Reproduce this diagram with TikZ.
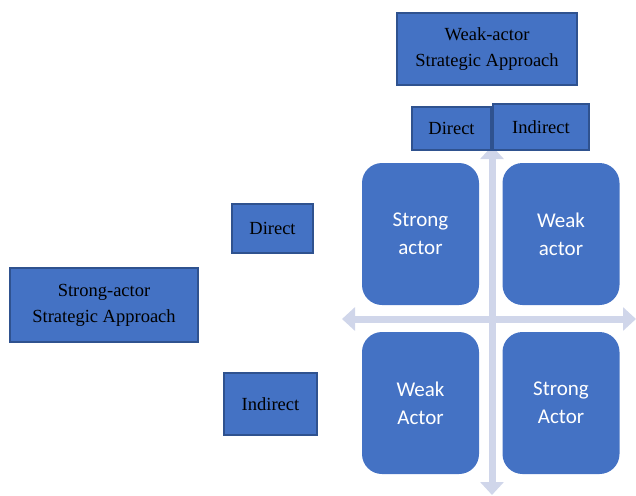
\documentclass[tikz,border=0pt]{standalone}
\usepackage{fontspec}
\setmainfont{Liberation Serif}
\newfontfamily\labelfont{Liberation Serif}
\newfontfamily\quadfont{Carlito}
\usetikzlibrary{arrows.meta, positioning}
\definecolor{boxBlue}{HTML}{4472C4}
\definecolor{edgeBlue}{HTML}{2F528F}
\definecolor{axisGrey}{HTML}{D0D6EA}
\tikzset{
  labelbox/.style={rectangle, fill=boxBlue, draw=edgeBlue, line width=1.4pt, inner sep=0pt,
    align=center, font=\labelfont\fontsize{18.5}{26}\selectfont, text=black},
  quadbox/.style={rectangle, rounded corners=20pt, fill=boxBlue, inner sep=0pt,
    minimum width=117pt, minimum height=142pt, align=center,
    font=\quadfont\fontsize{21}{28}\selectfont, text=white},
  axisarrow/.style={draw=axisGrey, line width=7pt, {Triangle[width=23pt,length=13pt]}-{Triangle[width=23pt,length=13pt]}}
}

\begin{document}
\begin{tikzpicture}[x=1pt, y=-1pt]
    \useasboundingbox (0,0) rectangle (636,495);

    % Axes behind everything
    \coordinate (axtop) at (492,146);
    \coordinate (axbot) at (492,495);
    \coordinate (axleft) at (342,319);
    \coordinate (axright) at (636,319);
    \draw[axisarrow] (axtop) -- (axbot);
    \draw[axisarrow] (axleft) -- (axright);

    % Four quadrants
    \node[quadbox] (strongtop) at (420.5,234) {Strong\\actor};
    \node[quadbox] (weaktop) at (561,234) {Weak\\actor};
    \node[quadbox] (weakbot) at (420.5,403) {Weak\\Actor};
    \node[quadbox] (strongbot) at (561,403) {Strong\\Actor};

    % Weak-actor approach (columns)
    \node[labelbox, minimum width=180pt, minimum height=72pt] (weakapp) at (487,49) {Weak-actor\\Strategic Approach};
    \node[labelbox, minimum width=79pt, minimum height=43pt] (coldirect) at (451.5,128.5) {Direct};
    \node[labelbox, minimum width=96pt, minimum height=46pt] (colindirect) at (541,127) {Indirect};

    % Strong-actor approach (rows)
    \node[labelbox, minimum width=188pt, minimum height=74pt] (strongapp) at (104,305) {Strong-actor\\Strategic Approach};
    \node[labelbox, minimum width=81pt, minimum height=49pt] (rowdirect) at (272.5,228.5) {Direct};
    \node[labelbox, minimum width=93pt, minimum height=62pt] (rowindirect) at (270.5,404) {Indirect};
\end{tikzpicture}
\end{document}
